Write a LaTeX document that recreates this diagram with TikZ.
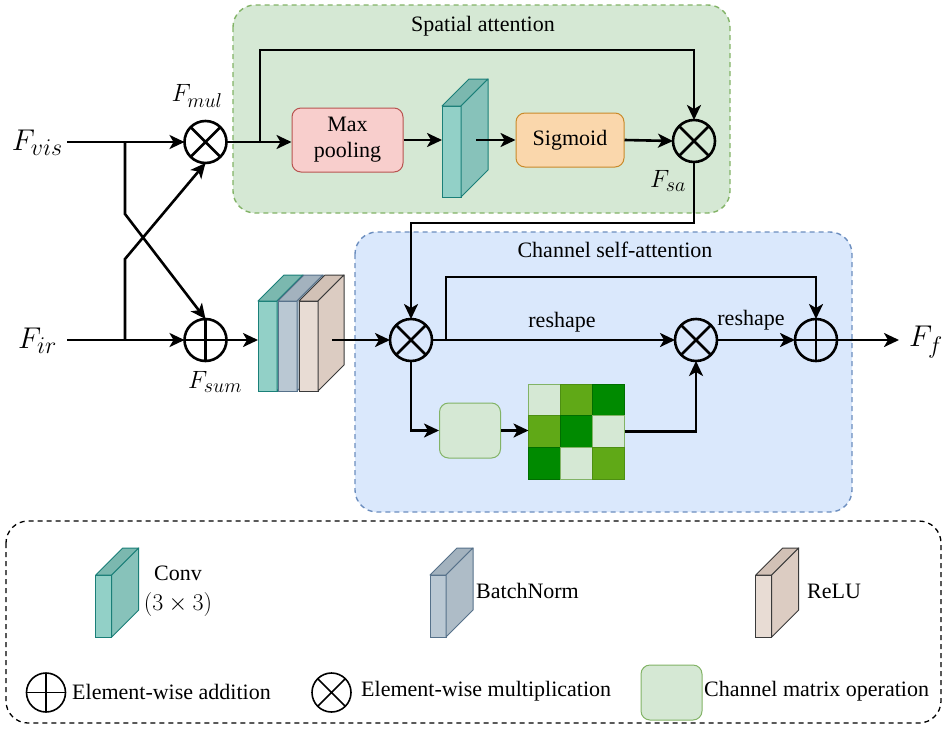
\RequirePackage{fix-cm}
\documentclass[tikz,border=0pt]{standalone}
\usepackage[no-math]{fontspec}
\setmainfont{Liberation Serif}
\usetikzlibrary{arrows.meta,calc}

% palette
\definecolor{spfill}{HTML}{D5E8D4}
\definecolor{spline}{HTML}{82B366}
\definecolor{chfill}{HTML}{DAE8FC}
\definecolor{chline}{HTML}{6C8EBF}
\definecolor{poolfill}{HTML}{F8CECC}
\definecolor{poolline}{HTML}{B85450}
\definecolor{sigfill}{HTML}{FAD7AC}
\definecolor{sigline}{HTML}{C98A2A}
\definecolor{convfront}{HTML}{92D0C7}
\definecolor{convside}{HTML}{87C2BA}
\definecolor{convtop}{HTML}{7BB8AF}
\definecolor{convline}{HTML}{1A7F78}
\definecolor{bnfront}{HTML}{BAC8D3}
\definecolor{bnside}{HTML}{AEBCC7}
\definecolor{bntop}{HTML}{A3B2BE}
\definecolor{bnline}{HTML}{56718A}
\definecolor{relufront}{HTML}{E8DCD4}
\definecolor{reluside}{HTML}{DCCCC2}
\definecolor{relutop}{HTML}{D2C1B6}
\definecolor{reluline}{HTML}{3A3A3A}
\definecolor{cellL}{HTML}{D5E8D4}
\definecolor{cellLs}{HTML}{82B366}
\definecolor{cellM}{HTML}{60A917}
\definecolor{cellMs}{HTML}{4D8F12}
\definecolor{cellD}{HTML}{008A00}
\definecolor{cellDs}{HTML}{006E00}

\tikzset{
  arr/.style={line width=2.6pt, -{Stealth[length=15pt,width=14pt,inset=4pt]}},
  op/.style={circle, draw, line width=2.6pt, minimum size=42pt, inner sep=0pt, outer sep=0pt},
  legop/.style={circle, draw, line width=1.6pt, minimum size=39pt, inner sep=0pt, outer sep=0pt},
  group/.style={rounded corners=22pt, line width=1.4pt, dash pattern=on 5pt off 4pt},
  proc/.style={draw, rounded corners=9pt, line width=1pt, align=center, inner sep=0pt},
  slabface/.style={rectangle, inner sep=0pt, outer sep=0pt, line width=1pt},
}

% symbol strokes inside an operator circle
\newcommand\crossin[2][line width=2.6pt]{\draw[#1] (#2.north west) -- (#2.south east) (#2.north east) -- (#2.south west);}
\newcommand\plusin[2][line width=2.6pt]{\draw[#1] (#2.north) -- (#2.south) (#2.west) -- (#2.east);}
% top and side faces of a slab whose front face is node #1
\newcommand\slabfaces[5]{%
  \filldraw[fill=#3, draw=#4, line width=1pt, line join=round]
    (#1.north west) -- ([shift={(#5,-#5)}]#1.north west) -- ([shift={(#5,-#5)}]#1.north east) -- (#1.north east) -- cycle;
  \filldraw[fill=#2, draw=#4, line width=1pt, line join=round]
    (#1.north east) -- ([shift={(#5,-#5)}]#1.north east) -- ([shift={(#5,-#5)}]#1.south east) -- (#1.south east) -- cycle;}
% feature label F with a subscript
\newcommand\Flab[3]{\fontsize{#1}{#1}\selectfont$F_{\mbox{\fontsize{#2}{#2}\selectfont$#3$}}$}

\begin{document}
\begin{tikzpicture}[x=1pt, y=-1pt, every node/.append style={font=\fontsize{22}{26}\selectfont}]
\useasboundingbox (0,0) rectangle (944,731);

% ---------- group panels ----------
\draw[group, fill=spfill, draw=spline] (233,5) rectangle (730,213);
\node (sptitle) at (483,26) {Spatial attention};
\draw[group, fill=chfill, draw=chline] (355,232) rectangle (852,512);
\node (chtitle) at (615,250) {Channel self-attention};
\draw[group, draw=black, line width=1.3pt] (6,521) rectangle (941,723);

% ---------- inputs ----------
\node[anchor=east, inner xsep=4pt] (fvis) at (67,143) {\Flab{30}{24}{vis}};
\node[anchor=east, inner xsep=10pt] (fir) at (67,341) {\Flab{30}{24}{ir}};

% ---------- operators ----------
\node[op] (mul) at (205.5,142) {}; \crossin{mul}
\node[op] (sum) at (205.5,340) {}; \plusin{sum}
\node[op] (sa) at (694,141) {}; \crossin{sa}
\node[op] (m1) at (411,340) {}; \crossin{m1}
\node[op] (m2) at (696,340) {}; \crossin{m2}
\node[op] (p2) at (816,340) {}; \plusin{p2}

\node (lmul) at (197,96) {\Flab{25}{20}{mul}};
\node (lsum) at (215,382) {\Flab{25}{20}{sum}};
\node (lsa) at (668,181) {\Flab{25}{20}{sa}};
\node[anchor=west, inner xsep=10pt] (ff) at (899,342) {\Flab{30}{24}{f}};

% ---------- spatial attention ----------
\node[proc, fill=poolfill, draw=poolline, minimum width=111pt, minimum height=64pt] (pool) at (347.5,140) {Max\\pooling};
\node[slabface, fill=convfront, draw=convline, minimum width=19pt, minimum height=91pt] (sblk) at (451.5,151.5) {};
\slabfaces{sblk}{convside}{convtop}{convline}{27}
\node[proc, fill=sigfill, draw=sigline, minimum width=108pt, minimum height=54pt] (sig) at (570,140) {Sigmoid};

% ---------- conv / batchnorm / relu stack ----------
\node[slabface, fill=convfront, draw=convline, minimum width=19pt, minimum height=90pt] (k1) at (267.5,346) {};
\slabfaces{k1}{convside}{convtop}{convline}{26}
\node[slabface, fill=bnfront, draw=bnline, minimum width=19pt, minimum height=90pt] (k2) at (287.5,346) {};
\slabfaces{k2}{bnside}{bntop}{bnline}{26}
\node[slabface, fill=relufront, draw=reluline, minimum width=19pt, minimum height=90pt] (k3) at (308.5,346) {};
\slabfaces{k3}{reluside}{relutop}{reluline}{26}

% ---------- channel self-attention ----------
\node[proc, fill=spfill, draw=spline, minimum width=61pt, minimum height=55pt] (mat) at (470,430.5) {};
\node[inner sep=0pt, outer sep=0pt, minimum width=96pt, minimum height=95pt] (grid) at (576.5,431.5) {};
\foreach \col/\row/\f/\s in {0/0/cellL/cellLs, 1/0/cellM/cellMs, 2/0/cellD/cellDs,
                             0/1/cellM/cellMs, 1/1/cellD/cellDs, 2/1/cellL/cellLs,
                             0/2/cellD/cellDs, 1/2/cellL/cellLs, 2/2/cellM/cellMs}
  \filldraw[fill=\f, draw=\s, line width=1pt]
    ([shift={(\col*32,\row*31.667)}]grid.north west) rectangle ++(32,31.667);

% ---------- connectors ----------
\coordinate (vsplit) at (125,142);
\coordinate (isplit) at (125,340);
\draw[arr] (fvis.east |- mul.west) -- (mul.west);
\draw[arr] (fir.east |- sum.west) -- (sum.west);
\draw[arr] (vsplit) -- ++(0,72) -- (sum.north);
\draw[arr] (isplit) -- ++(0,-81) -- (mul.south);

\coordinate (skipsa) at (260,142);
\draw[arr] (mul.east) -- (mul.east -| pool.west);
\draw[arr] (skipsa) -- ++(0,-92) -| (sa.north);
\draw[arr] (pool.east) -- (pool.east -| sblk.west);
\draw[arr] ([xshift=15pt]sblk.east |- sig.west) -- (sig.west);
\draw[arr] (sig.east) -- (sa.west);
\draw[arr] (sa.south) -- ++(0,61) -| (m1.north);

\draw[arr] (sum.east) -- (sum.east -| k1.west);
\draw[arr] ([xshift=14pt]k3.east |- m1.west) -- (m1.west);

\coordinate (skipch) at (446,340);
\draw[arr] (m1.east) -- node[above=3pt, xshift=8.5pt] (rs1) {reshape} (m2.west);
\draw[arr] (skipch) -- ++(0,-63) -| (p2.north);
\draw[arr] (m2.east) -- node[above=5pt, xshift=-5pt] (rs2) {reshape} (p2.west);
\draw[arr] (p2.east) -- (ff.west |- p2.east);

\draw[arr] (m1.south) |- (mat.west);
\draw[arr] (mat.east) -- (grid.west |- mat.east);
\draw[arr] (grid.east) -| (m2.south);

% ---------- legend ----------
\node[slabface, fill=convfront, draw=convline, minimum width=16pt, minimum height=62pt] (lconv) at (103.7,606) {};
\slabfaces{lconv}{convside}{convtop}{convline}{27}
\node[align=center, inner sep=0pt] (tconv) at (178,591) {Conv\\[4pt]{\fontsize{24}{26}\selectfont$(3\times 3)$}};

\node[slabface, fill=bnfront, draw=bnline, minimum width=16pt, minimum height=62pt] (lbn) at (438,606) {};
\slabfaces{lbn}{bnside}{bntop}{bnline}{27}
\node[anchor=west, inner xsep=0pt] (tbn) at (476,591) {BatchNorm};

\node[slabface, fill=relufront, draw=reluline, minimum width=16pt, minimum height=62pt] (lrelu) at (763.7,606) {};
\slabfaces{lrelu}{reluside}{relutop}{reluline}{27}
\node[anchor=west, inner xsep=0pt] (trelu) at (807,591) {ReLU};

\node[legop] (ladd) at (46,692.5) {}; \plusin[line width=1.6pt]{ladd}
\node[anchor=west, inner xsep=0pt] (tadd) at (72,692) {Element-wise addition};
\node[legop] (lmult) at (331.5,692.5) {}; \crossin[line width=1.6pt]{lmult}
\node[anchor=west, inner xsep=0pt] (tmult) at (361,691) {Element-wise multiplication};
\node[proc, fill=spfill, draw=spline, minimum width=61pt, minimum height=55pt] (lmat) at (671.5,692.5) {};
\node[anchor=west, inner xsep=0pt] (tmat) at (704,691) {Channel matrix operation};
\end{tikzpicture}
\end{document}
